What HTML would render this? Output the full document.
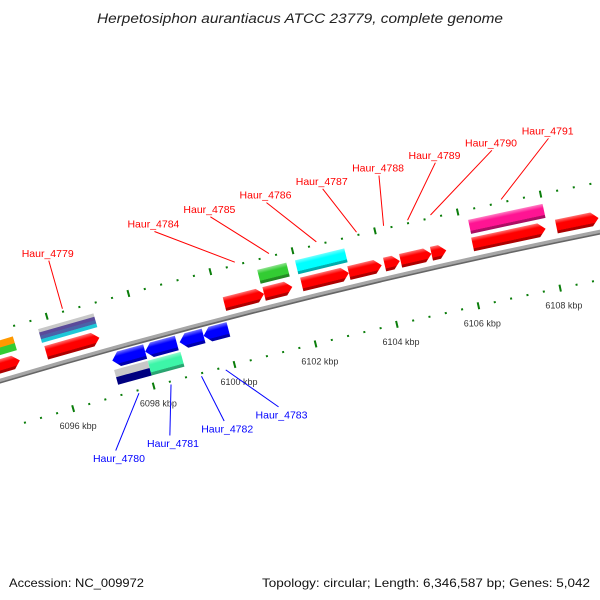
<!DOCTYPE html>
<html><head><meta charset="utf-8">
<style>
html,body{margin:0;padding:0;background:#fff;width:600px;height:600px;overflow:hidden;}
svg{display:block;}
</style></head>
<body>
<svg id="map" width="600" height="600" viewBox="0 0 600 600" xmlns="http://www.w3.org/2000/svg" style="overflow:hidden">
<defs id="defs"><clipPath id="frame"><rect x="0" y="0" width="600" height="600"/></clipPath></defs>
<rect x="0" y="0" width="600" height="600" fill="#fff"/>
<text x="300" y="23" text-anchor="middle" font-family="Liberation Sans, sans-serif" font-style="italic" font-size="13.5" fill="#222" textLength="406" lengthAdjust="spacingAndGlyphs">Herpetosiphon aurantiacus ATCC 23779, complete genome</text>
<g clip-path="url(#frame)">
<g id="ticks"></g>
<g id="backbone"></g>
<g id="genes"></g>
<g id="labels"></g>
</g>
<text x="9" y="587" font-family="Liberation Sans, sans-serif" font-size="12" fill="#111" textLength="135" lengthAdjust="spacingAndGlyphs">Accession: NC_009972</text>
<text x="590" y="587" text-anchor="end" font-family="Liberation Sans, sans-serif" font-size="12" fill="#111" textLength="328" lengthAdjust="spacingAndGlyphs">Topology: circular; Length: 6,346,587 bp; Genes: 5,042</text>
</svg>
<script>
// ---- data (kbp) ----
const fwdStarts = [6093.5, 6095.75, 6100.13, 6101.1, 6102.02, 6103.17, 6104.04, 6104.43, 6105.18, 6106.18, 6108.21];
const fwdEnds   = [6095.1, 6097.06, 6101.1, 6101.79, 6103.17, 6103.97, 6104.41, 6105.18, 6105.54, 6107.95, 6109.23];
const fwdNames  = ['', 'Haur_4779', 'Haur_4784', 'Haur_4785', 'Haur_4786', 'Haur_4787', 'Haur_4788', 'Haur_4789', 'Haur_4790', 'Haur_4791', ''];
const fwd2Starts = [6093.5, 6095.72, 6101.08, 6102.0, 6106.2];
const fwd2Ends   = [6095.1, 6097.08, 6101.79, 6103.2, 6108.0];
const fwd2Colors = [['#ff9900', '#33cc33'], ['#c8c8c8', '#5a4a9a', '#4a62a8', '#1ec8d8'], ['#33cc33'], ['#00ffff'], ['#ff1493']];
const revStarts = [6097.21, 6098.02, 6098.87, 6099.46];
const revEnds   = [6098.02, 6098.80, 6099.46, 6100.07];
const revNames  = ['Haur_4780', 'Haur_4781', 'Haur_4782', 'Haur_4783'];
const rev2Starts = [6097.19, 6098.02];
const rev2Ends   = [6098.02, 6098.83];
const rev2Colors = [['#c8c8c8', '#000080'], ['#3df5a8']];
const tickStartKbp = 6094.8, tickEndKbp = 6114, tickStep = 0.4, majorKbp = 2;
const viewStartKbp = 6090, viewEndKbp = 6116;

// ---- geometry ----
const NS = 'http://www.w3.org/2000/svg';
const CX = 1973, CY = 7045, R = 6950;
const PHI_REF = -11.81, KBP_REF = 6108, DEG_PER_KBP = 0.3471;
function phi(k){ return PHI_REF + (k - KBP_REF) * DEG_PER_KBP; }
function ptPhi(p, r){ const a = p*Math.PI/180; return [CX + r*Math.sin(a), CY - r*Math.cos(a)]; }
function pt(k, r){ return ptPhi(phi(k), r); }
function mk(tag, attrs, parent){ const e = document.createElementNS(NS, tag); for (const k in attrs) e.setAttribute(k, attrs[k]); parent.appendChild(e); return e; }

function hex2rgb(h){ return [1,3,5].map(i=>parseInt(h.substr(i,2),16)); }
function mix(h, t, f){ const a=hex2rgb(h), b=hex2rgb(t); return 'rgb('+a.map((v,i)=>Math.round(v+(b[i]-v)*f)).join(',')+')'; }
const defs = document.getElementById('defs');
const gradCache = {};
function grad(color){
  if (gradCache[color]) return gradCache[color];
  const id = 'g' + color.replace('#','');
  const lg = mk('linearGradient', {id:id, x1:0, y1:0, x2:0, y2:1}, defs);
  mk('stop', {offset:'0', 'stop-color':mix(color,'#ffffff',0.45)}, lg);
  mk('stop', {offset:'0.3', 'stop-color':color}, lg);
  mk('stop', {offset:'0.78', 'stop-color':color}, lg);
  mk('stop', {offset:'0.8', 'stop-color':mix(color,'#000000',0.3)}, lg);
  mk('stop', {offset:'1', 'stop-color':mix(color,'#000000',0.35)}, lg);
  gradCache[color] = 'url(#'+id+')';
  return gradCache[color];
}

// ---- ticks ----
const tg = document.getElementById('ticks');
const nT = Math.round((tickEndKbp - tickStartKbp)/tickStep);
for (let i = 0; i <= nT; i++){
  const k = tickStartKbp + i*tickStep;
  const rem = ((k % majorKbp) + majorKbp) % majorKbp;
  const major = rem < 0.01 || rem > majorKbp - 0.01;
  [R+49, R-47].forEach(function(rr){
    const h = major ? 3.5 : 1;
    const a = pt(k, rr-h), b = pt(k, rr+h);
    const l = mk('line', {x1:a[0], y1:a[1], x2:b[0], y2:b[1], stroke:'#0a7d0a', 'stroke-width':2}, tg);
    
    
  });
  if (major){
    const p = pt(k, R-65);
    const t = mk('text', {x:p[0], y:p[1]+3, 'text-anchor':'middle', 'font-family':'Liberation Sans, sans-serif', 'font-size':'9', fill:'#333'}, tg);
    t.textContent = Math.round(k) + ' kbp';
    
    
  }
}

// ---- backbone (arc over visible range only) ----
const bb = document.getElementById('backbone');
function arcPath(r){
  const a = pt(viewStartKbp, r), b = pt(viewEndKbp, r);
  return 'M' + a[0] + ',' + a[1] + ' A' + r + ',' + r + ' 0 0 1 ' + b[0] + ',' + b[1];
}
const c1 = mk('path', {d:arcPath(R+0.5), fill:'none', stroke:'#a6a6a6', 'stroke-width':3.5}, bb);


const c2 = mk('path', {d:arcPath(R-1.8), fill:'none', stroke:'#666', 'stroke-width':1.6}, bb);



// ---- genes ----
const gg = document.getElementById('genes');
function drawGene(s, e, rIn, rOut, colors, dir, name){
  const pm = (phi(s)+phi(e))/2;
  const rm = (rIn+rOut)/2;
  const g = mk('g', {transform:'rotate('+pm+' '+CX+' '+CY+')'}, gg);
  
  
  const x0 = CX + rm*(phi(s)-pm)*Math.PI/180;
  const x1 = CX + rm*(phi(e)-pm)*Math.PI/180;
  const yT = CY - rOut, yB = CY - rIn, yM = (yT+yB)/2;
  if (dir === 0){
    const n = colors.length, hh = (yB-yT)/n;
    colors.forEach(function(c, j){
      const r = mk('rect', {x:x0, y:yT+j*hh, width:x1-x0, height:hh+0.3, fill: n===1 ? grad(c) : c}, g);
      
      
    });
  } else {
    const h = Math.min(7, (x1-x0)*0.6);
    let pts;
    if (dir > 0) pts = [[x0,yT],[x1-h,yT],[x1,yM],[x1-h,yB],[x0,yB]];
    else pts = [[x1,yT],[x0+h,yT],[x0,yM],[x0+h,yB],[x1,yB]];
    const p = mk('polygon', {points: pts.map(q=>q.join(',')).join(' '), fill:grad(colors[0])}, g);
    
    
  }
}
fwdStarts.forEach((s,i)=>drawGene(s, fwdEnds[i], R+7, R+21, ['#ff0000'], 1, fwdNames[i] ? fwdNames[i].toLowerCase().replace('_','-') : 'forward-gene'));
fwd2Starts.forEach((s,i)=>drawGene(s, fwd2Ends[i], R+25, R+39, fwd2Colors[i], 0, 'forward-feature'));
revStarts.forEach((s,i)=>drawGene(s, revEnds[i], R-19, R-4, ['#0000ff'], -1, revNames[i].toLowerCase().replace('_','-')));
rev2Starts.forEach((s,i)=>drawGene(s, rev2Ends[i], R-36, R-21, rev2Colors[i], 0, 'reverse-feature'));

// ---- labels ----
const lg = document.getElementById('labels');
function spread(ph, sep){
  const out = ph.slice();
  for (let it = 0; it < 400; it++){
    for (let i = 0; i < out.length-1; i++){
      const d = out[i+1]-out[i];
      if (d < sep){ const m = (sep-d)/2; out[i] -= m; out[i+1] += m; }
    }
  }
  return out;
}
function drawLabels(starts, ends, names, color, rLine0, rLine1, rText, dy){
  const idx = [], ph = [];
  names.forEach((n,i)=>{ if (n){ idx.push(i); ph.push(phi((starts[i]+ends[i])/2)); } });
  const lp = spread(ph, 0.47);
  idx.forEach(function(i, j){
    const a = ptPhi(ph[j], rLine0), b = ptPhi(lp[j], rLine1), t = ptPhi(lp[j], rText);
    const l = mk('line', {x1:a[0], y1:a[1], x2:b[0], y2:b[1], stroke:color, 'stroke-width':1}, lg);
    
    
    const tx = mk('text', {x:t[0], y:t[1]+dy, 'text-anchor':'middle', 'font-family':'Liberation Sans, sans-serif', 'font-size':'10.5', fill:color}, lg);
    tx.textContent = names[i];
    
    
  });
}
drawLabels(fwdStarts, fwdEnds, fwdNames, '#ff0000', R+52, R+102, R+106, 0);
drawLabels(revStarts, revEnds, revNames, '#0000ff', R-50, R-99, R-111, 0);
</script>
</body></html>
